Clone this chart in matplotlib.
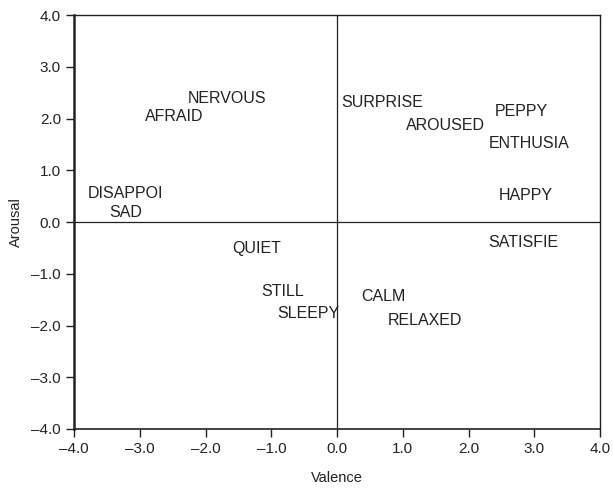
import numpy as np
import matplotlib
matplotlib.use("Agg")
import matplotlib.pyplot as plt

plt.rcParams['font.family'] = ['Liberation Sans', 'DejaVu Sans']

# emotion words on the valence / arousal plane
words = ["NERVOUS", "AFRAID", "DISAPPOI", "SAD", "SURPRISE", "AROUSED",
         "PEPPY", "ENTHUSIA", "HAPPY", "SATISFIE", "QUIET", "STILL",
         "SLEEPY", "CALM", "RELAXED"]
valence = [-2.27, -2.92, -3.79, -3.47, 0.06, 1.05,
           2.40, 2.30, 2.46, 2.30, -1.59, -1.15,
           -0.91, 0.36, 0.77]
arousal = [2.38, 2.05, 0.56, 0.18, 2.31, 1.87,
           2.13, 1.51, 0.51, -0.39, -0.51, -1.35,
           -1.76, -1.44, -1.91]

ticks = np.arange(-4, 5, 1)
ticklabels = [f"{t:.1f}".replace('-', '\u2013') for t in ticks]

fig = plt.figure(figsize=(6.13, 4.9), dpi=100)
ax = fig.add_axes([0.121, 0.1245, 0.858, 0.8445])

for w, vx, vy in zip(words, valence, arousal):
    ax.text(vx, vy, w, fontsize=11.5, ha='left', va='center', color='#222222')

ax.axhline(0, color='#222222', lw=0.9)
ax.axvline(0, color='#222222', lw=0.9)

ax.set_xlim(-4, 4)
ax.set_ylim(-4, 4)
ax.set_xticks(ticks)
ax.set_yticks(ticks)
ax.set_xticklabels(ticklabels, fontsize=11)
ax.set_yticklabels(ticklabels, fontsize=11)
ax.tick_params(direction='out', length=5.5, width=1, pad=4,
               color='#222222', labelcolor='#222222')
for s in ax.spines.values():
    s.set_linewidth(1)
    s.set_color('#222222')
ax.spines['left'].set_linewidth(1.8)
ax.spines['bottom'].set_linewidth(1.2)

ax.set_xlabel('Valence', fontsize=10.5, color='#222222', labelpad=11)
ax.set_ylabel('Arousal', fontsize=10.5, color='#222222', labelpad=6)

fig.savefig("out.png", dpi=100)
